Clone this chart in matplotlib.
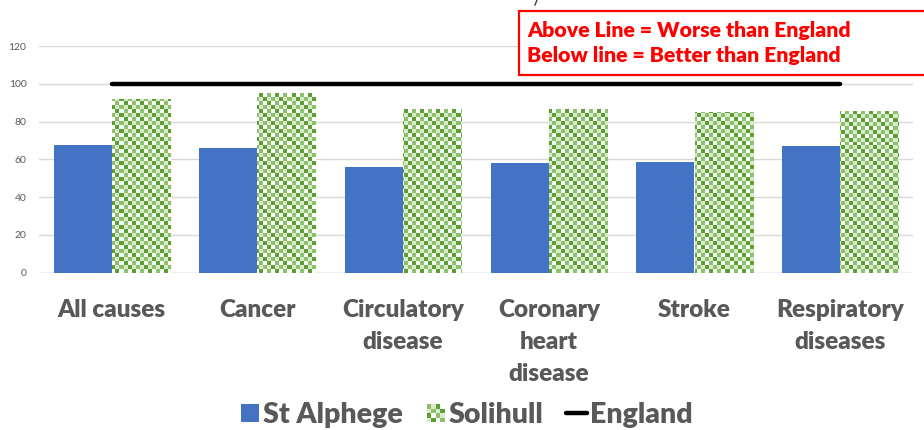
import numpy as np
import matplotlib
matplotlib.use("Agg")
import matplotlib.pyplot as plt
from matplotlib.patches import Rectangle
from matplotlib.lines import Line2D
from matplotlib.legend_handler import HandlerBase

# Mortality ratios by cause of death (England = 100)
categories = ["All causes", "Cancer", "Circulatory\ndisease", "Coronary\nheart\ndisease",
              "Stroke", "Respiratory\ndiseases"]
st_alphege = [67.8, 66.2, 56.2, 57.9, 58.6, 67.1]
solihull = [91.8, 95.0, 86.4, 86.9, 84.9, 85.6]
england = [100, 100, 100, 100, 100, 100]
y_ticks = [0, 20, 40, 60, 80, 100, 120]

FONT = ["Lato", "DejaVu Sans"]
GREY = "#595959"
BLUE = "#4472C4"
DARK_G = "#5B9F31"
MID_G = "#8DC06A"
PALE_G = "#D8EACB"
HEAVY = "heavy"

plt.rcParams["font.family"] = FONT

W, H = 924, 430
fig = plt.figure(figsize=(W / 100, H / 100), dpi=100)
ax = fig.add_axes([39 / W, 1 - 272.7 / H, (913 - 39) / W, (272.7 - 46) / H])

x = np.arange(len(categories))
bw = 0.4

ax.set_xlim(-0.5, len(categories) - 0.5)
ax.set_ylim(0, 120)

# Gridlines
ax.set_yticks(y_ticks)
ax.grid(axis="y", color="#D9D9D9", linewidth=1.0, zorder=0)
ax.set_axisbelow(True)
for s in ["top", "right", "left", "bottom"]:
    ax.spines[s].set_visible(False)
ax.axhline(0, color="#D0D0D0", linewidth=1.0, zorder=1)

ax.bar(x - bw / 2, st_alphege, width=bw, color=BLUE, zorder=2)
sol_bars = ax.bar(x + bw / 2, solihull, width=bw, color="white", zorder=2)


def checker_texture(nrows, ncols):
    """Green checker pattern as an RGB array (one entry per 4px cell)."""
    cols = {
        0: matplotlib.colors.to_rgb("white"),
        1: matplotlib.colors.to_rgb(PALE_G),
        2: matplotlib.colors.to_rgb(DARK_G),
        3: matplotlib.colors.to_rgb(MID_G),
    }
    img = np.zeros((nrows, ncols, 3))
    for i in range(nrows):
        for j in range(ncols):
            if (i + j) % 2 == 0:
                k = 0 if i % 2 == 0 else 1
            else:
                k = 2 if ((i - j - 1) // 2) % 2 == 0 else 3
            img[i, j] = cols[k]
    return img


ax_w_px = (913 - 39)
ax_h_px = (272.7 - 46)
tex = checker_texture(int(round(ax_h_px / 4)), int(round(ax_w_px / 4)))
for b in sol_bars:
    im = ax.imshow(tex, extent=[0, 1, 0, 1], transform=ax.transAxes,
                   aspect="auto", interpolation="nearest", zorder=3)
    im.set_clip_path(b)
ax.set_xlim(-0.5, len(categories) - 0.5)
ax.set_ylim(0, 120)

ax.plot(x, england, color="black", linewidth=3.2, solid_capstyle="round", zorder=4)

ax.set_xticks(x)
ax.set_xticklabels(categories, fontsize=17.5, fontweight=HEAVY, color=GREY,
                   linespacing=1.55, va="top")
ax.tick_params(axis="x", length=0, pad=19)
ax.tick_params(axis="y", length=0, pad=9, labelsize=7.5, labelcolor=GREY)


class CheckerHandler(HandlerBase):
    def create_artists(self, legend, orig_handle, xdescent, ydescent, width, height,
                       fontsize, trans):
        n = 4
        side = height * 0.9
        x0 = -xdescent + (width - side) / 2
        y0 = -ydescent + (height - side) / 2
        c = side / n
        arts = []
        shades = [[PALE_G, DARK_G, "white", MID_G],
                  [DARK_G, "white", MID_G, PALE_G],
                  [PALE_G, MID_G, PALE_G, DARK_G],
                  [MID_G, PALE_G, DARK_G, "white"]]
        for i in range(n):
            for j in range(n):
                r = Rectangle((x0 + j * c, y0 + i * c), c, c, facecolor=shades[i][j],
                              edgecolor="none", transform=trans)
                arts.append(r)
        return arts


class SquareHandler(HandlerBase):
    def create_artists(self, legend, orig_handle, xdescent, ydescent, width, height,
                       fontsize, trans):
        side = height * 0.9
        r = Rectangle((-xdescent + (width - side) / 2, -ydescent + (height - side) / 2),
                      side, side, facecolor=BLUE, edgecolor="none", transform=trans)
        return [r]


h_sa = Rectangle((0, 0), 1, 1)
h_sol = Rectangle((0, 0), 1, 1)
h_eng = Line2D([], [], color="black", linewidth=3.2, solid_capstyle="round")
leg = fig.legend([h_sa, h_sol, h_eng], ["St Alphege", "Solihull", "England"],
                 handler_map={h_sa: SquareHandler(), h_sol: CheckerHandler()},
                 loc="center", bbox_to_anchor=(466 / W, 1 - 415 / H), ncol=3,
                 frameon=False, handlelength=0.72, handletextpad=0.1,
                 columnspacing=0.8,
                 prop={"family": FONT, "weight": HEAVY, "size": 20.5})
for t in leg.get_texts():
    t.set_color(GREY)

# Annotation box
fig.patches.append(Rectangle((519 / W, 1 - 75 / H), (W - 519 + 5) / W, (75 - 11) / H,
                             transform=fig.transFigure, facecolor="white",
                             edgecolor="#FF0000", linewidth=1.6, zorder=5))
fig.text(527 / W, 1 - 37 / H, "Above Line = Worse than England", color="#FF0000",
         fontsize=15.3, fontweight=HEAVY, va="baseline", ha="left", zorder=6)
fig.text(527 / W, 1 - 62 / H, "Below line = Better than England", color="#FF0000",
         fontsize=15.3, fontweight=HEAVY, va="baseline", ha="left", zorder=6)
fig.lines.append(Line2D([535 / W, 537 / W], [1 - 5 / H, 1.0], transform=fig.transFigure,
                        color="#404040", linewidth=1.0))

fig.savefig("out.png", dpi=100)
